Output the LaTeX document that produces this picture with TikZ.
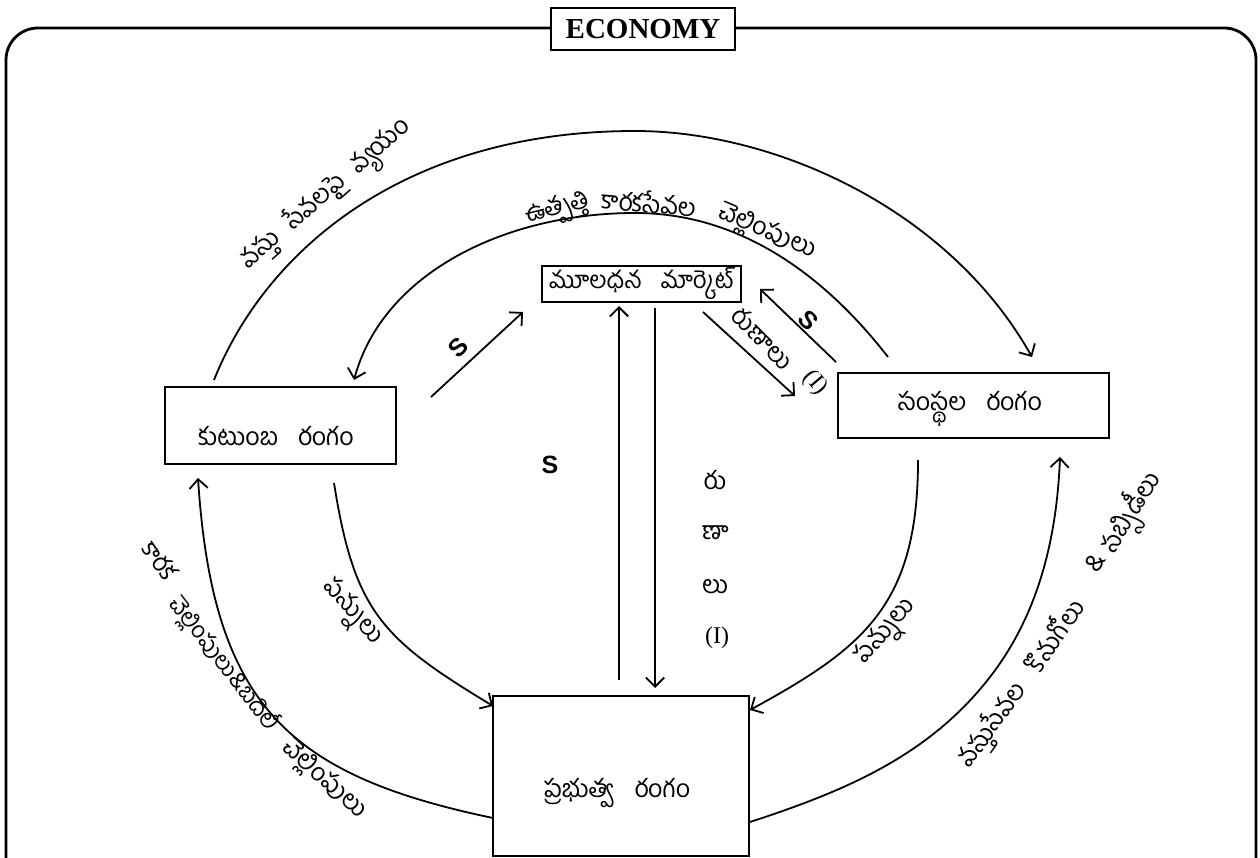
\documentclass[tikz,border=0pt]{standalone}
\usepackage{fontspec}
\setmainfont{Liberation Serif}
\newfontfamily\tel[Script=Telugu]{Hind Guntur}
\newfontfamily\sansb{Liberation Sans}
\usetikzlibrary{arrows.meta,calc}
\begin{document}
\begin{tikzpicture}[x=1pt,y=-1pt,
  box/.style={draw, line width=2pt, fill=white, inner sep=0pt},
  flow/.style={line width=1.8pt, -{Straight Barb[angle=90:13pt]}},
  tl/.style={font=\tel\fontsize{25}{29}\selectfont, inner sep=0pt},
  tls/.style={font=\tel\fontsize{23}{27}\selectfont, inner sep=0pt},
  sl/.style={font=\sansb\bfseries\fontsize{25}{30}\selectfont, inner sep=0pt},
  rl/.style={font=\fontsize{24}{28}\selectfont, inner sep=0pt},
]
\useasboundingbox (0,0) rectangle (1260,858);
% outer frame
\draw[line width=2.8pt, rounded corners=32pt] (6,858) -- (6,28) -- (1256,28) -- (1256,858);
\node[box, line width=2.4pt, minimum width=184pt, minimum height=42pt,
      font=\bfseries\fontsize{29}{32}\selectfont] (eco) at (643,29) {ECONOMY};

% sector boxes
\node[box, minimum width=231pt, minimum height=77pt] (hh) at (280.5,425.5) {};
\node[tl] (hhT) at (276,436) {కుటుంబ\hspace{0.8em}రంగం};
\node[box, minimum width=199pt, minimum height=36pt, font=\tel\fontsize{24}{28}\selectfont] (mk) at (641.5,284) {మూలధన\hspace{0.8em}మార్కెట్};
\node[box, minimum width=271pt, minimum height=65pt] (fm) at (973.5,405.5) {};
\node[tl] (fmT) at (970,409) {సంస్థల\hspace{0.8em}రంగం};
\node[box, minimum width=256pt, minimum height=160pt] (gv) at (621.3,776) {};
\node[tl] (gvT) at (617,793) {ప్రభుత్వ\hspace{0.8em}రంగం};

% endpoints
\coordinate (o1a) at (214,380); \coordinate (o1b) at (1032,357);
\coordinate (i1a) at (888,357); \coordinate (i1b) at (354,380);
\coordinate (o2a) at (493,818); \coordinate (o2b) at (198,478);
\coordinate (i2a) at (334,483); \coordinate (i2b) at (493,706);
\coordinate (i3a) at (918,460); \coordinate (i3b) at (750,710);
\coordinate (o3a) at (750,822); \coordinate (o3b) at (1060,457);
\coordinate (s1a) at (431,397); \coordinate (s1b) at (523,312);
\coordinate (upa) at (619,680); \coordinate (upb) at (619,306);
\coordinate (dna) at (655,308); \coordinate (dnb) at (655,688);
\coordinate (lna) at (703,312); \coordinate (lnb) at (795,396);
\coordinate (s2a) at (836,362); \coordinate (s2b) at (760,289);

% curved flows
\draw[flow] (o1a) .. controls (266,250) and (405,131) .. (635,131)
                  .. controls (775,131) and (948.7,209) .. (o1b);
\draw[flow] (i1a) .. controls (839,294) and (755,213) .. (635,213)
                  .. controls (505,213) and (382.6,273.3) .. (i1b);
\draw[flow] (o2a) .. controls (289.4,775.4) and (212.8,706) .. (o2b);
\draw[flow] (i2a) .. controls (354.3,611.4) and (381.7,638.8) .. (i2b);
\draw[flow] (i3a) .. controls (918,605) and (864,647.6) .. (i3b);
\draw[flow] (o3a) .. controls (845,791) and (928.7,756) .. (990,677)
                  .. controls (1039,613.8) and (1056.8,537) .. (o3b);

% straight flows
\draw[flow] (s1a) -- (s1b);
\draw[flow] (upa) -- (upb);
\draw[flow] (dna) -- (dnb);
\draw[flow] (lna) -- (lnb);
\draw[flow] (s2a) -- (s2b);

% labels
\node[tl, rotate=41] (l1) at (327,195) {వస్తు\hspace{0.6em}సేవలపై\hspace{0.6em}వ్యయం};
\node[tl, rotate=14] (l2a) at (558,210) {ఉత్పత్తి};
\node[tl, rotate=-5] (l2b) at (649,202) {కారకసేవల};
\node[tl, rotate=-23] (l2c) at (767,232) {చెల్లింపులు};
\node[tl, rotate=-45] (l3) at (763,338) {రుణాలు};
\node[rl, rotate=-50] (l3i) at (815,383) {(I)};
\node[sl, rotate=45] (sA) at (458,348) {S};
\node[sl, rotate=-45] (sB) at (808,320) {S};
\node[sl] (sC) at (550,465) {S};
\node[tl] (v1) at (715,480) {రు};
\node[tl] (v2) at (715,533) {ణా};
\node[tl] (v3) at (715,587) {లు};
\node[rl] (v4) at (717,638) {(I)};
\node[tl, rotate=-49] (l4) at (351,613) {పన్నులు};
\node[tl, rotate=-55] (l5a) at (160,560) {కారక};
\node[tls, rotate=-52] (l5b) at (224,664) {చెల్లింపులు\&బదిలీ};
\node[tl, rotate=-42] (l5c) at (324,780) {చెల్లింపులు};
\node[tl, rotate=49] (l6) at (887,633) {పన్నులు};
\node[tl, rotate=54] (l7a) at (993,725) {వస్తుసేవల};
\node[tl, rotate=56] (l7b) at (1053,635) {కొనుగోలు};
\node[tl, rotate=58] (l7c) at (1095,563) {\&};
\node[tl, rotate=58] (l7d) at (1132,513) {సబ్సిడీలు};
\end{tikzpicture}
\end{document}
